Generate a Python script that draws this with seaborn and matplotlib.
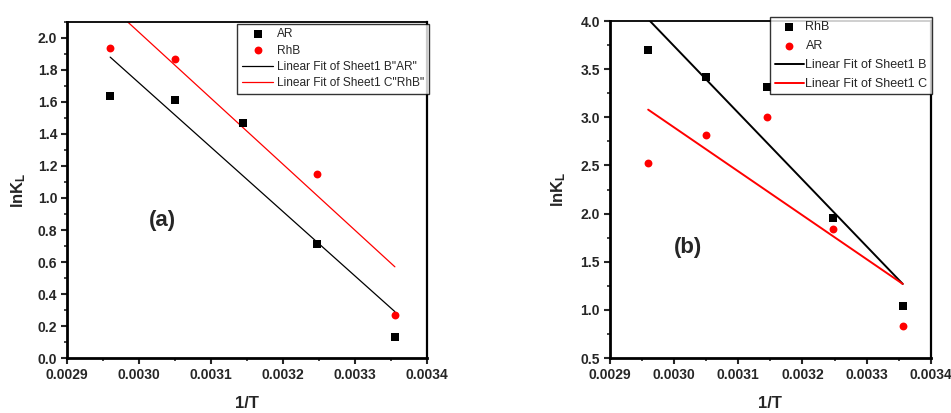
import numpy as np
import matplotlib
matplotlib.use("Agg")
import matplotlib.pyplot as plt
import seaborn as sns
from matplotlib.ticker import MultipleLocator, AutoMinorLocator, FormatStrFormatter

sns.set_style("ticks")
plt.rcParams["font.family"] = ["Liberation Sans", "DejaVu Sans"]
plt.rcParams["mathtext.fontset"] = "custom"
plt.rcParams["mathtext.rm"] = "Liberation Sans:bold"
plt.rcParams["mathtext.it"] = "Liberation Sans:bold"
plt.rcParams["mathtext.bf"] = "Liberation Sans:bold"

# 1/T values shared by both panels
inv_t = [0.00296, 0.00305, 0.003145, 0.003248, 0.003356]

# panel (a)
a_ar = [1.64, 1.61, 1.47, 0.71, 0.13]
a_rhb = [1.94, 1.87, np.nan, 1.15, 0.27]
# linear fit values at the first and last 1/T
fit_x = [0.00296, 0.003356]
a_fit_ar = [1.88, 0.29]
a_fit_rhb = [2.20, 0.57]

# panel (b)
b_rhb = [3.70, 3.42, 3.32, 1.95, 1.04]
b_ar = [2.53, 2.82, 3.00, 1.84, 0.83]
b_fit_b = [4.02, 1.27]
b_fit_c = [3.08, 1.27]

fig = plt.figure(figsize=(9.51, 4.13), dpi=100)
ax1 = fig.add_axes([0.0705, 0.133, 0.378, 0.814])
ax2 = fig.add_axes([0.641, 0.133, 0.338, 0.816])


def style_axes(ax, ylim, ymajor):
    ax.set_xlim(0.0029, 0.0034)
    ax.set_ylim(*ylim)
    ax.xaxis.set_major_locator(MultipleLocator(0.0001))
    ax.xaxis.set_minor_locator(AutoMinorLocator(2))
    ax.yaxis.set_major_locator(MultipleLocator(ymajor))
    ax.yaxis.set_minor_locator(AutoMinorLocator(2))
    ax.xaxis.set_major_formatter(FormatStrFormatter("%.4f"))
    ax.yaxis.set_major_formatter(FormatStrFormatter("%.1f"))
    ax.tick_params(which="major", direction="out", length=4, width=1.5,
                   labelsize=10, top=False, right=False, pad=3)
    ax.tick_params(which="minor", direction="out", length=2.5, width=1.2,
                   top=False, right=False)
    for lab in ax.get_xticklabels() + ax.get_yticklabels():
        lab.set_fontweight("bold")
    for side in ["left", "bottom", "right", "top"]:
        ax.spines[side].set_visible(True)
        ax.spines[side].set_color("black")
    ax.spines["left"].set_linewidth(2)
    ax.spines["bottom"].set_linewidth(2)
    ax.spines["right"].set_linewidth(1.6)
    ax.spines["top"].set_linewidth(1.3)
    ax.set_xlabel("1/T", fontsize=12, fontweight="bold", labelpad=10)
    ax.set_ylabel(r"lnK$_\mathregular{L}$", fontsize=12, fontweight="bold")


# panel (a)
sns.scatterplot(x=inv_t, y=a_ar, ax=ax1, marker="s", color="black", s=28,
                edgecolor="black", linewidth=0, label="AR", zorder=3)
sns.scatterplot(x=inv_t, y=a_rhb, ax=ax1, marker="o", color="red", s=32,
                edgecolor="red", linewidth=0, label="RhB", zorder=3)
sns.lineplot(x=fit_x, y=a_fit_ar, ax=ax1, color="black", lw=0.9,
             label='Linear Fit of Sheet1 B"AR"')
sns.lineplot(x=fit_x, y=a_fit_rhb, ax=ax1, color="red", lw=0.9,
             label='Linear Fit of Sheet1 C"RhB"')
style_axes(ax1, (0.0, 2.1), 0.2)
ax1.yaxis.labelpad = 7
leg1 = ax1.legend(loc="upper right", bbox_to_anchor=(1.006, 0.995), fontsize=8.6,
                  frameon=True, fancybox=False, edgecolor="black",
                  borderpad=0.4, labelspacing=0.35, handlelength=2.6,
                  handletextpad=0.3, borderaxespad=0)
leg1.get_frame().set_linewidth(1.0)
ax1.text(0.003033, 0.86, "(a)", fontsize=16, fontweight="bold",
         ha="center", va="center")

# panel (b)
sns.scatterplot(x=inv_t, y=b_rhb, ax=ax2, marker="s", color="black", s=28,
                edgecolor="black", linewidth=0, label="RhB", zorder=3)
sns.scatterplot(x=inv_t, y=b_ar, ax=ax2, marker="o", color="red", s=32,
                edgecolor="red", linewidth=0, label="AR", zorder=3)
sns.lineplot(x=fit_x, y=b_fit_b, ax=ax2, color="black", lw=1.4,
             label="Linear Fit of Sheet1 B")
sns.lineplot(x=fit_x, y=b_fit_c, ax=ax2, color="red", lw=1.4,
             label="Linear Fit of Sheet1 C")
style_axes(ax2, (0.5, 4.0), 0.5)
ax2.yaxis.labelpad = 9
leg2 = ax2.legend(loc="upper right", bbox_to_anchor=(1.003, 1.012), fontsize=9,
                  frameon=True, fancybox=False, edgecolor="black",
                  borderpad=0.35, labelspacing=0.55, handlelength=2.3,
                  handletextpad=0.15, borderaxespad=0)
leg2.get_frame().set_linewidth(1.0)
ax2.text(0.0030215, 1.65, "(b)", fontsize=16, fontweight="bold",
         ha="center", va="center")

fig.savefig("out.png", dpi=100)
